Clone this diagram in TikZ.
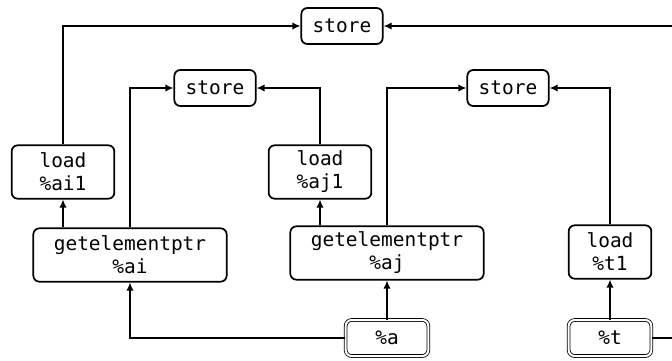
\documentclass[tikz,border=0pt]{standalone}
\usepackage{fontspec}
\setmonofont{DejaVu Sans Mono}
\usetikzlibrary{arrows.meta, positioning}

\begin{document}
\begin{tikzpicture}[x=0.75pt, y=-0.75pt,
    op/.style={draw, line width=1.3pt, rounded corners=4.5pt, align=center,
        inner sep=0pt, font=\ttfamily\fontsize{14.6}{17.2}\selectfont},
    arg/.style={op, double, line width=0.6pt, double distance=1.5pt},
    edge/.style={line width=1.3pt, -{Latex[length=6pt,width=5.5pt]}}]
    \useasboundingbox (0,0) rectangle (672,361);

    % Stores
    \node[op, minimum width=61pt, minimum height=27pt] (st0) at (342,26) {store};
    \node[op, minimum width=61pt, minimum height=27pt] (st1) at (215,88) {store};
    \node[op, minimum width=61pt, minimum height=27pt] (st2) at (508,88) {store};

    % Loads
    \node[op, minimum width=77pt, minimum height=40pt] (ai1) at (63,172) {load\\\%ai1};
    \node[op, minimum width=77pt, minimum height=40pt] (aj1) at (320,172) {load\\\%aj1};
    \node[op, minimum width=62pt, minimum height=40pt] (t1) at (610,252) {load\\\%t1};

    % Element pointers
    \node[op, minimum width=145pt, minimum height=40pt] (gai) at (130,255) {getelementptr\\\%ai};
    \node[op, minimum width=145pt, minimum height=40pt] (gaj) at (387,253) {getelementptr\\\%aj};

    % Arguments
    \node[arg, minimum width=62pt, minimum height=27pt] (a) at (387,338) {\%a};
    \node[arg, minimum width=62pt, minimum height=27pt] (t) at (610,338) {\%t};
    \coordinate (offr) at (700,0);

    % Edges
    \draw[edge] (ai1.north) |- (st0.west);
    \draw[edge] (gai.north) |- (st1.west);
    \draw[edge] (aj1.north) |- (st1.east);
    \draw[edge] (gaj.north) |- (st2.west);
    \draw[edge] (t1.north) |- (st2.east);
    \draw[edge] (gai.north -| ai1.south) -- (ai1.south);
    \draw[edge] (gaj.north -| aj1.south) -- (aj1.south);
    \draw[edge] (a.north) -- (gaj.south);
    \draw[edge] (a.west) -| (gai.south);
    \draw[edge] (t.north) -- (t1.south);
    \draw[edge] (t.east) -- (t.east -| offr) -- (st0.east -| offr) -- (st0.east);
\end{tikzpicture}
\end{document}
